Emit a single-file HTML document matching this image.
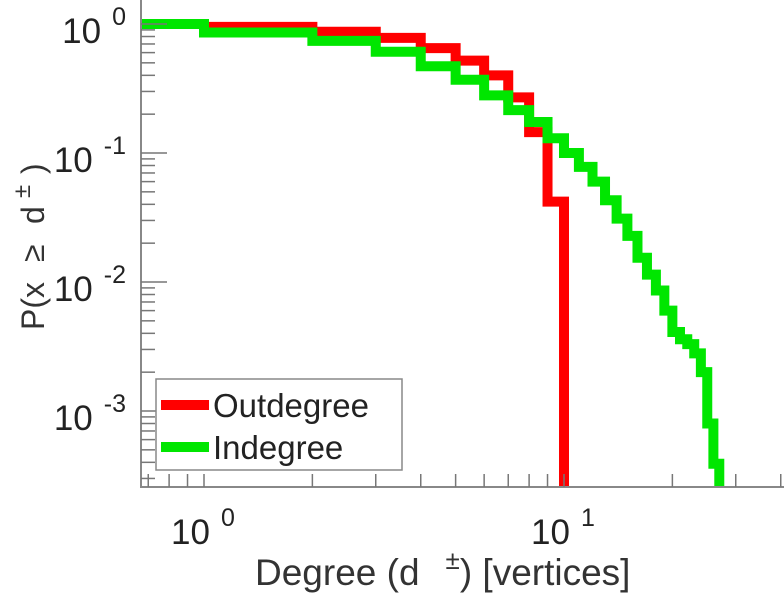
<!DOCTYPE html>
<html><head><meta charset="utf-8"><style>
html,body{margin:0;padding:0;background:#fff;}
svg{display:block;font-family:"Liberation Sans",sans-serif;}
</style></head><body>
<svg id="chart" width="784" height="600" viewBox="0 0 784 600">
<g id="marks"></g>
<g id="axes"></g>
<g id="labels"></g>
</svg>
<script>
const outDegrees = [0.65, 1, 2, 3, 4, 5, 6, 7, 8, 9, 10];
const outValues = [1.0, 0.95, 0.87, 0.78, 0.65, 0.52, 0.40, 0.27, 0.145, 0.042];
const inDegrees = [0.65, 1, 2, 3, 4, 5, 6, 7, 8, 9, 10, 11, 12, 13, 14, 15, 16, 17, 18, 19, 20, 21, 22, 23, 24, 25, 26, 27];
const inValues = [1.0, 0.86, 0.74, 0.61, 0.47, 0.37, 0.28, 0.215, 0.174, 0.13, 0.10, 0.078, 0.06, 0.043, 0.031, 0.0228, 0.0154, 0.0114, 0.0086, 0.0060, 0.0041, 0.0036, 0.0033, 0.0028, 0.0020, 0.00080, 0.00039];
const yTickExps = [0, -1, -2, -3];
const xTickExps = [0, 1];

const NS = "http://www.w3.org/2000/svg";
const X0 = 204, XD = 360, Y0 = 24, YD = 129;
const L = 141, R = 784, T = 0, B = 487;
function xs(d){ return X0 + XD*Math.log10(d); }
function ys(p){ return Y0 - YD*Math.log10(p); }
function mk(tag, attrs, parent){
  const e = document.createElementNS(NS, tag);
  for (const k in attrs) e.setAttribute(k, attrs[k]);
  parent.appendChild(e); return e;
}
const marks = document.getElementById('marks');
const axes = document.getElementById('axes');
const labels = document.getElementById('labels');

function stepPath(ds, vs){
  let p = 'M' + xs(ds[0]) + ' ' + ys(vs[0]);
  for (let i = 0; i < vs.length; i++){
    p += ' L' + xs(ds[i+1]) + ' ' + ys(vs[i]);
    if (i+1 < vs.length) p += ' L' + xs(ds[i+1]) + ' ' + ys(vs[i+1]);
  }
  p += ' L' + xs(ds[vs.length]) + ' ' + (B+20);
  return p;
}
const clip = mk('clipPath', {id:'pc'}, marks);
mk('rect', {x:L, y:T, width:R-L, height:B-T}, clip);
const red = mk('path', {d: stepPath(outDegrees, outValues), fill:'none', stroke:'#ff0000', 'stroke-width':10, 'stroke-linejoin':'miter', 'clip-path':'url(#pc)'}, marks);


const green = mk('path', {d: stepPath(inDegrees, inValues), fill:'none', stroke:'#00e600', 'stroke-width':10, 'stroke-linejoin':'miter', 'clip-path':'url(#pc)'}, marks);



const ax = mk('path', {d:'M'+L+' '+T+' L'+L+' '+B+' L'+R+' '+B, fill:'none', stroke:'#888', 'stroke-width':2}, axes);


for (let e = 0; e >= -4; e--){
  for (let m = 1; m <= 9; m++){
    const y = ys(m*Math.pow(10,e));
    if (y < T || y > B) continue;
    const len = m === 1 ? 26 : 14;
    const t = mk('line', {x1:L, x2:L+len, y1:y, y2:y, stroke:'#777', 'stroke-width':1.5}, axes);
    
    
  }
}
for (let e = -1; e <= 1; e++){
  for (let m = 1; m <= 9; m++){
    const x = xs(m*Math.pow(10,e));
    if (x < L || x > R) continue;
    const t = mk('line', {x1:x, x2:x, y1:B, y2:B-13, stroke:'#777', 'stroke-width':1.5}, axes);
    
    
  }
}
yTickExps.forEach(function(e){
  const y = ys(Math.pow(10,e));
  const t = mk('text', {x:126, y:y+19, 'font-size':35, fill:'#222', 'text-anchor':'end'}, labels);
  
  
  t.textContent = '10';
  const s = mk('tspan', {dx:11, dy:-18, 'font-size':25}, t);
  s.textContent = String(e);
});
xTickExps.forEach(function(e){
  const x = xs(Math.pow(10,e));
  const t = mk('text', {x:x-33, y:544, 'font-size':35, fill:'#222'}, labels);
  
  
  t.textContent = '10';
  const s = mk('tspan', {dx:11, dy:-18, 'font-size':25}, t);
  s.textContent = String(e);
});
</script>
<script>
(function(){
  const NS="http://www.w3.org/2000/svg";
  const svg=document.getElementById('chart');
  const g=document.createElementNS(NS,'g');
  svg.appendChild(g);
  g.innerHTML =
   '<rect x="156" y="379" width="246" height="91" fill="#fff" stroke="#888" stroke-width="1.5"/>'+
   '<line x1="161" x2="209" y1="405" y2="405" stroke="#ff0000" stroke-width="10"/>'+
   '<text x="213" y="417" font-size="33" fill="#222">Outdegree</text>'+
   '<line x1="161" x2="209" y1="447" y2="447" stroke="#00e600" stroke-width="10"/>'+
   '<text x="213" y="459" font-size="33" fill="#222">Indegree</text>'+
   '<text x="255" y="585" font-size="37" fill="#333">Degree (d<tspan dx="26" dy="-16" font-size="26">±</tspan><tspan dy="16">) [vertices]</tspan></text>'+
   '<g transform="translate(44,330) rotate(-90)" fill="#333" font-size="32">'+
     '<text x="0" y="0">P(x</text>'+
     '<text x="68" y="0">≥</text>'+
     '<text x="106" y="0">d</text>'+
     '<text x="132" y="-14" font-size="24">±</text>'+
     '<text x="156" y="0">)</text>'+
   '</g>';
})();
</script>
</svg>
</body></html>
